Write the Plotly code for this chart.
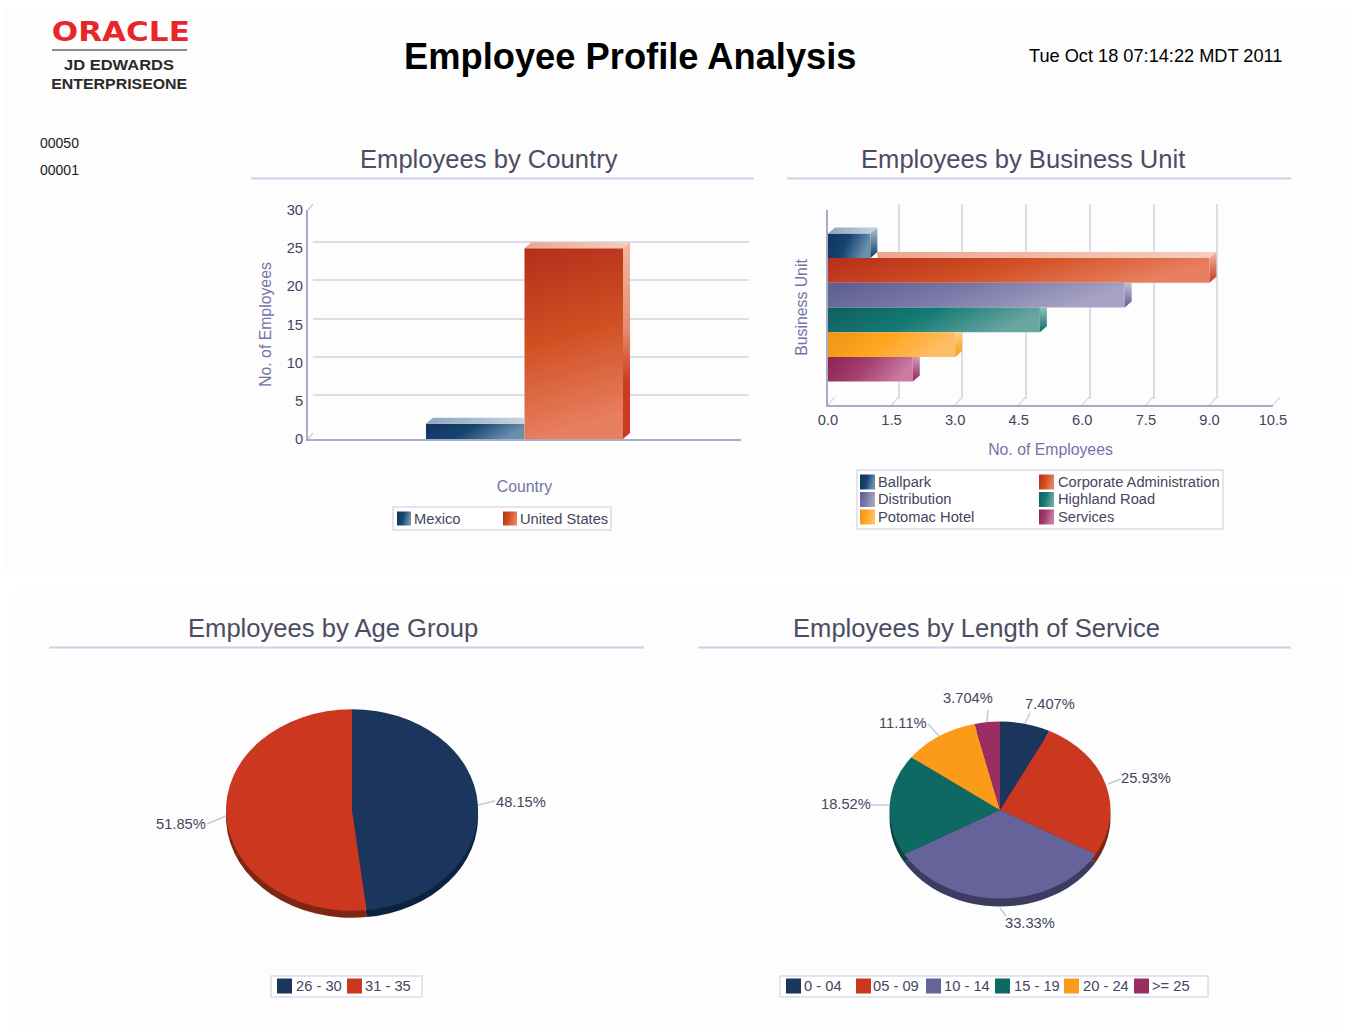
import json
import plotly.graph_objects as go

W, H = 1351, 1031

# ---- data ----
country_names = ["Mexico", "United States"]
country_values = [2, 25]
unit_names = ["Ballpark", "Corporate Administration", "Distribution",
              "Highland Road", "Potomac Hotel", "Services"]
unit_values = [1, 9, 7, 5, 3, 2]
age_names = ["26 - 30", "31 - 35"]
age_values = [13, 14]
service_names = ["0 - 04", "05 - 09", "10 - 14", "15 - 19", "20 - 24", ">= 25"]
service_values = [2, 7, 9, 5, 3, 1]
country_ticks = [0, 5, 10, 15, 20, 25, 30]
unit_ticks = [0, 1.5, 3, 4.5, 6, 7.5, 9, 10.5]
codes = ["00050", "00001"]

# ---- styles ----
NAVY, RED, PURPLE, TEAL, ORANGE, MAGENTA = "#1b365d", "#cc3720", "#66639b", "#0f6963", "#fc9a1a", "#9b2d62"
PALETTE = [NAVY, RED, PURPLE, TEAL, ORANGE, MAGENTA]
DARK = ["#0c2340", "#7d2614", "#3c3b60", "#0a4340", "#a8660f", "#661d40"]
GRAD = {
    NAVY: ["#12325f", "#15456f", "#6b8fae"],
    RED: ["#b52e1c", "#d04f22", "#e87f60"],
    PURPLE: ["#5c5c90", "#7b79a8", "#a6a3c4"],
    TEAL: ["#0e5f5c", "#157a74", "#6aa6a2"],
    ORANGE: ["#ee9418", "#ffa51f", "#ffbe66"],
    MAGENTA: ["#8a2356", "#a2406f", "#c97ba3"],
}
TOP = {NAVY: ["#8ca6bd", "#c6d4df"], RED: ["#eda58e", "#f6cdbf"]}
SIDE = {
    NAVY: ["#a9c0d2", "#14406b"], RED: ["#f2b7a4", "#c8391f"],
    PURPLE: ["#c2c0d8", "#5f5d92"], TEAL: ["#8fc0bb", "#0e6a64"],
    ORANGE: ["#ffd08a", "#f59a12"], MAGENTA: ["#d89aba", "#8c2557"],
}
TXT = "#45455c"
AXT = "#7472a8"
LINE = "#a9a9c9"
GRID = "#dcdcea"
RULE = "#d0d0e6"
FONT = "Liberation Sans"
TICK = dict(family=FONT, size=14.7, color=TXT)
AXF = dict(family=FONT, size=15.8, color=AXT)
STRETCH = {"ORACLE": 138, "JD EDWARDS": 110, "ENTERPRISEONE": 136}


def px(x):
    return x / W


def py(y):
    return 1 - y / H


def dom_x(a, b):
    return [px(a), px(b)]


def dom_y(top, bottom):
    return [py(bottom), py(top)]


def rgb_rect(x0, y0, x1, y1, fill=None, line=None, lw=1, layer="below"):
    return dict(type="rect", xref="paper", yref="paper", x0=px(x0), x1=px(x1), y0=py(y0), y1=py(y1),
                fillcolor=fill or "rgba(0,0,0,0)", line=dict(color=line or "rgba(0,0,0,0)", width=lw if line else 0),
                layer=layer)


def seg(x0, y0, x1, y1, color, w=1, layer="below"):
    return dict(type="line", xref="paper", yref="paper", x0=px(x0), x1=px(x1), y0=py(y0), y1=py(y1),
                line=dict(color=color, width=w), layer=layer)


def label(x, y, text, size=14.7, color=TXT, anchor="left", bold=False, family=FONT):
    nudge = -2 if anchor == "left" else 0  # annotation text box has its own padding
    return dict(xref="paper", yref="paper", x=px(x + nudge), y=py(y), text=f"<b>{text}</b>" if bold else text,
                showarrow=False, xanchor=anchor, yanchor="middle",
                font=dict(family=family, size=size, color=color))


shapes, annos = [], []
grad_shapes = {}

# panels
shapes.append(rgb_rect(3, 8, 1350, 575, fill="#fcfdfc"))
shapes.append(rgb_rect(15, 587, 1338, 1031, fill="#fcfdfc"))

# header
annos.append(label(120.5, 32, "ORACLE", size=26, color="#e8262a", anchor="center", bold=True, family="DejaVu Sans"))
shapes.append(seg(52, 50, 187, 50, "#8c8c8c", 2))
annos.append(label(119, 64, "JD EDWARDS", size=15, color="#2a2a2a", anchor="center", bold=True))
annos.append(label(119.5, 83, "ENTERPRISEONE", size=15, color="#2a2a2a", anchor="center", bold=True))
annos.append(label(630, 56, "Employee Profile Analysis", size=36.3, color="#000000", anchor="center", bold=True))
annos.append(label(1155.5, 56, "Tue Oct 18 07:14:22 MDT 2011", size=18.2, color="#000000", anchor="center"))
annos.append(label(40, 143, codes[0], size=14, color="#1a1a1a"))
annos.append(label(40, 170, codes[1], size=14, color="#1a1a1a"))

# section titles
for cx, cy, t, x0, x1 in [
    (489, 159, "Employees by Country", 251, 754),
    (1023, 159, "Employees by Business Unit", 787, 1291),
    (332.5, 628, "Employees by Age Group", 49, 644),
    (976.5, 628, "Employees by Length of Service", 698, 1291),
]:
    annos.append(label(cx, cy, t, size=25.6, anchor="center", color="#4c4c62"))
    shapes.append(seg(x0, cy + 19.5, x1, cy + 19.5, RULE, 2))

fig = go.Figure()

# ---- back walls come first, so their grids sit behind every bar ----
C1_L, C1_R, C1_T, C1_B = 308, 741, 210, 439
C2_L, C2_R, C2_T, C2_B = 828, 1273, 210, 405
DX, DY = 7, 6
axis_off = dict(showgrid=False, zeroline=False, showticklabels=False, ticks="", showline=False)
layout_axes = {}
layout_axes["xaxis"] = dict(domain=dom_x(C1_L + 5, C1_R + 8), range=[0, 1], anchor="y", **axis_off)
layout_axes["yaxis"] = dict(domain=dom_y(C1_T - DY, C1_B - DY), range=[0, 30], anchor="x", showgrid=True,
                            gridcolor=GRID, gridwidth=2, zeroline=False, showticklabels=False, ticks="",
                            tickvals=country_ticks, showline=False)
fig.add_trace(go.Scatter(x=[0], y=[-5], xaxis="x", yaxis="y", mode="markers", showlegend=False,
                         hoverinfo="skip", marker=dict(opacity=0)))
layout_axes["xaxis2"] = dict(domain=dom_x(C2_L + DX, C2_R + 8), range=[0, 10.5], anchor="y2", showgrid=True,
                             gridcolor=GRID, gridwidth=2, zeroline=False, showticklabels=False, ticks="",
                             tickvals=unit_ticks, showline=False)
layout_axes["yaxis2"] = dict(domain=dom_y(C2_T - DY, C2_B - DY), range=[0, 1], anchor="x2", **axis_off)
fig.add_trace(go.Scatter(x=[-5], y=[0], xaxis="x2", yaxis="y2", mode="markers", showlegend=False,
                         hoverinfo="skip", marker=dict(opacity=0)))

# ---- Chart 1: columns by country ----
layout_axes["xaxis3"] = dict(domain=dom_x(C1_L, C1_R), range=[-0.5, 0.5], anchor="y3", zeroline=False, showgrid=False,
                             showticklabels=False, ticks="", showline=True, linecolor=LINE, linewidth=2,
                             title=dict(text="Country", font=AXF, standoff=41))
layout_axes["yaxis3"] = dict(domain=dom_y(C1_T, C1_B), range=[0, 30], anchor="x3", zeroline=False, showgrid=False,
                             tickvals=country_ticks, tickfont=TICK, ticks="", showline=True, linecolor=LINE, linewidth=2,
                             title=dict(text="No. of Employees", font=AXF, standoff=11))
C1_COLORS = [NAVY, RED]
C1_GAP = 0.545
c1_band = (1 - C1_GAP) / len(country_values)
for i, (n, v, c) in enumerate(zip(country_names, country_values, C1_COLORS)):
    fig.add_trace(go.Bar(x=[0], y=[v], name=n, marker=dict(color=c, line=dict(width=0)), xaxis="x3", yaxis="y3",
                         showlegend=False, hoverinfo="x+y", width=c1_band,
                         offset=-(1 - C1_GAP) / 2 + i * c1_band))
c1_dx = DX / (C1_R - C1_L)
c1_dy = DY / ((C1_B - C1_T) / 30)
for i, (v, c) in enumerate(zip(country_values, C1_COLORS)):
    a = -(1 - C1_GAP) / 2 + i * c1_band
    b = a + c1_band
    fig.add_trace(go.Scatter(
        x=[a, a + c1_dx, b + c1_dx if i else b, b, a], y=[v, v + c1_dy, v + c1_dy, v, v], mode="lines",
        line=dict(width=0), fill="toself", showlegend=False, hoverinfo="skip", xaxis="x3", yaxis="y3",
        fillgradient=dict(type="horizontal", colorscale=[[0, TOP[c][0]], [1, TOP[c][1]]])))
    if i:
        fig.add_trace(go.Scatter(
            x=[b, b + c1_dx, b + c1_dx, b, b], y=[v, v + c1_dy, c1_dy, 0, v], mode="lines",
            line=dict(width=0), fill="toself", showlegend=False, hoverinfo="skip", xaxis="x3", yaxis="y3",
            fillgradient=dict(type="vertical", colorscale=[[0, SIDE[c][1]], [0.3, "#cc3d20"], [0.55, "#e58a6e"], [1, SIDE[c][0]]])))
shapes.append(seg(C1_L, C1_T, C1_L + 5, C1_T - DY, LINE, 1))
shapes.append(seg(C1_L, C1_B, C1_L + 5, C1_B - DY, LINE, 1))

# ---- Chart 2: horizontal bars by unit ----
layout_axes["xaxis4"] = dict(domain=dom_x(C2_L, C2_R), range=[0, 10.5], anchor="y4", zeroline=False, showgrid=False,
                             tickvals=unit_ticks, ticktext=[f"{t:.1f}" for t in unit_ticks], tickfont=TICK,
                             ticks="", showline=True, linecolor=LINE,
                             linewidth=2, title=dict(text="No. of Employees", font=AXF, standoff=17))
layout_axes["yaxis4"] = dict(domain=dom_y(C2_T, C2_B), range=[0.5, -0.5], anchor="x4", zeroline=False, showgrid=False,
                             showticklabels=False, ticks="", showline=True, linecolor=LINE, linewidth=2,
                             title=dict(text="Business Unit", font=AXF, standoff=14))
C2_GAP = 0.24
c2_band = (1 - C2_GAP) / len(unit_values)
for i, (n, v, c) in enumerate(zip(unit_names, unit_values, PALETTE)):
    fig.add_trace(go.Bar(y=[0], x=[v], orientation="h", name=n, marker=dict(color=c, line=dict(width=0)),
                         xaxis="x4", yaxis="y4", showlegend=False, hoverinfo="x+name", width=c2_band,
                         offset=-(1 - C2_GAP) / 2 + i * c2_band))
c2_dx = DX / ((C2_R - C2_L) / 10.5)
c2_dy = DY / (C2_B - C2_T)
for i, (v, c) in enumerate(zip(unit_values, PALETTE)):
    a = -(1 - C2_GAP) / 2 + i * c2_band
    b = a + c2_band
    prev = unit_values[i - 1] if i else 0
    if v > prev:  # top face shows only past the bar in front of it
        st = prev + c2_dx if i else 0
        fig.add_trace(go.Scatter(
            x=[st, st if i else c2_dx, v + c2_dx, v, st], y=[a, a - c2_dy, a - c2_dy, a, a], mode="lines",
            line=dict(width=0), fill="toself", showlegend=False, hoverinfo="skip", xaxis="x4", yaxis="y4",
            fillgradient=dict(type="horizontal", colorscale=[[0, TOP[c][0]], [1, TOP[c][1]]])))
        top_y = a - c2_dy
    else:
        top_y = a
    fig.add_trace(go.Scatter(
        x=[v, v + c2_dx, v + c2_dx, v, v], y=[a, top_y, b - c2_dy, b, a], mode="lines",
        line=dict(width=0), fill="toself", showlegend=False, hoverinfo="skip", xaxis="x4", yaxis="y4",
        fillgradient=dict(type="vertical", colorscale=[[0, SIDE[c][1]], [1, SIDE[c][0]]])))
for t in unit_ticks:
    xp = C2_L + t * (C2_R - C2_L) / 10.5
    shapes.append(seg(xp, C2_B, xp + DX, C2_B - DY - 2, GRID, 1.5))

# ---- pies (rim underneath, face on top) ----
PIES = [(352, 810, 126, 0.80, 7, age_values, PALETTE[:2], DARK[:2]),
        (1000, 810, 110.5, 0.80, 8, service_values, PALETTE, DARK)]
pie_jobs = []
idx = 0
for cx, cy, r, k, off, vals, cols, darks in PIES:
    for colors, shift in ((darks, off), (cols, 0)):
        fig.add_trace(go.Pie(values=vals, sort=False, direction="clockwise", rotation=0, textinfo="none",
                             marker=dict(colors=colors, line=dict(width=0)), showlegend=False, hoverinfo="percent",
                             domain=dict(x=dom_x(cx - r, cx + r), y=dom_y(cy - r, cy + r))))
        pie_jobs.append(dict(i=idx, cy=cy, k=k, off=shift))
        idx += 1


def pct(v, vals):
    return f"{v / sum(vals) * 100:.4g}%"


# percent labels with leader lines
age_label_pos = [(520.5, 802, (478, 805), (495, 801)), (181, 824, (226, 816), (207, 824))]
service_label_pos = [
    (1049.5, 704, (1025, 723), (1030, 713)), (1146, 778, (1108, 784), (1121, 779)),
    (1029.5, 923, (1000, 908), (1006, 916)), (846, 804, (889, 805), (871, 805)),
    (903, 723, (939, 736), (928, 724)), (968, 698, (987, 722), (988, 710)),
]
for vals, poss in ((age_values, age_label_pos), (service_values, service_label_pos)):
    for v, (x, y, a, b) in zip(vals, poss):
        annos.append(label(x, y, pct(v, vals), anchor="center"))
        shapes.append(seg(a[0], a[1], b[0], b[1], "#c4cade", 1.5, layer="above"))


# ---- legends ----
def legend_box(x0, y0, x1, y1, entries, size, gradient):
    shapes.append(rgb_rect(x0, y0, x1, y1, fill="#ffffff", line="#dcdcec", lw=1.5))
    for name, color, sx, tx, yc in entries:
        if gradient:
            grad_shapes[len(shapes)] = color
        shapes.append(rgb_rect(sx, yc - size / 2, sx + size, yc + size / 2, fill=color))
        annos.append(label(tx, yc, name))


legend_box(393, 507, 611, 530, [(country_names[0], NAVY, 397, 414, 518.5), (country_names[1], RED, 503, 519.5, 518.5)], 14, True)
ub = [(860, 878, 482), (1039, 1057.5, 482), (860, 878, 499.5), (1039, 1057.5, 499.5), (860, 878, 517), (1039, 1057.5, 517)]
legend_box(857, 470, 1223, 529, [(n, c, a, b, y) for n, c, (a, b, y) in zip(unit_names, PALETTE, ub)], 15, True)
legend_box(271, 976, 422, 997, [(age_names[0], NAVY, 277, 295.5, 986), (age_names[1], RED, 347, 365.5, 986)], 15, False)
sb = [(786, 804), (856, 873), (926, 944), (995, 1014), (1064, 1083), (1134, 1152)]
legend_box(780, 976, 1208, 997, [(n, c, a, b, 986) for n, c, (a, b) in zip(service_names, PALETTE, sb)], 15, False)

for ax in layout_axes.values():
    ax["automargin"] = False

fig.update_layout(width=W, height=H, margin=dict(l=0, r=0, t=0, b=0), paper_bgcolor="#ffffff",
                  plot_bgcolor="rgba(0,0,0,0)", barmode="overlay", showlegend=False,
                  shapes=shapes, annotations=annos, font=dict(family=FONT), **layout_axes)

post = """
var gd = document.getElementsByClassName('plotly-graph-div')[0];
document.documentElement.style.cssText = 'margin:0;padding:0;overflow:hidden;';
document.body.style.cssText = 'margin:0;padding:0;overflow:hidden;';
var GRAD = %s, GS = %s, PJ = %s, STRETCH = %s;
var svg = gd.querySelector('svg.main-svg');
var NS = 'http://www.w3.org/2000/svg';
var defs = document.createElementNS(NS, 'defs');
svg.insertBefore(defs, svg.firstChild);
var ids = {};
function toRgb(h){return 'rgb('+parseInt(h.substr(1,2),16)+', '+parseInt(h.substr(3,2),16)+', '+parseInt(h.substr(5,2),16)+')';}
function addGrad(id, stops, x2, y2){
  var g = document.createElementNS(NS, 'linearGradient');
  g.setAttribute('id', id);
  g.setAttribute('x1', '0'); g.setAttribute('y1', '0'); g.setAttribute('x2', x2); g.setAttribute('y2', y2);
  stops.forEach(function(col, j){
    var s = document.createElementNS(NS, 'stop');
    s.setAttribute('offset', j / (stops.length - 1)); s.setAttribute('stop-color', col); g.appendChild(s);
  });
  defs.appendChild(g);
}
Object.keys(GRAD).forEach(function(c, n){
  addGrad('grad' + n, GRAD[c], '1', '0.25');
  addGrad('gradv' + n, GRAD[c], '0.15', '1');
  ids[toRgb(c)] = n; ids[c] = n;
});
gd.querySelectorAll('.barlayer .point path').forEach(function(p){
  var n = ids[p.style.fill];
  if (n === undefined) return;
  var b = p.getBBox();
  p.style.fill = 'url(#' + ((b.height > b.width) ? 'gradv' : 'grad') + n + ')';
});
Object.keys(GS).forEach(function(i){
  gd.querySelectorAll('.shapelayer path[data-index="' + i + '"]').forEach(function(p){ p.style.fill = 'url(#grad' + ids[GS[i]] + ')'; });
});
var pies = gd.querySelectorAll('.pielayer .trace');
PJ.forEach(function(j){
  var t = pies[j.i];
  if (t) t.setAttribute('transform', 'translate(0,' + (j.cy + j.off) + ') scale(1,' + j.k + ') translate(0,' + (-j.cy) + ')');
});
gd.querySelectorAll('.annotation text').forEach(function(t){
  var w = STRETCH[t.textContent];
  if (w) { t.setAttribute('textLength', w); t.setAttribute('lengthAdjust', 'spacingAndGlyphs'); }
});
""" % (json.dumps(GRAD), json.dumps(grad_shapes), json.dumps(pie_jobs), json.dumps(STRETCH))

fig.write_html("out.html", post_script=post, config=dict(displayModeBar=False))
